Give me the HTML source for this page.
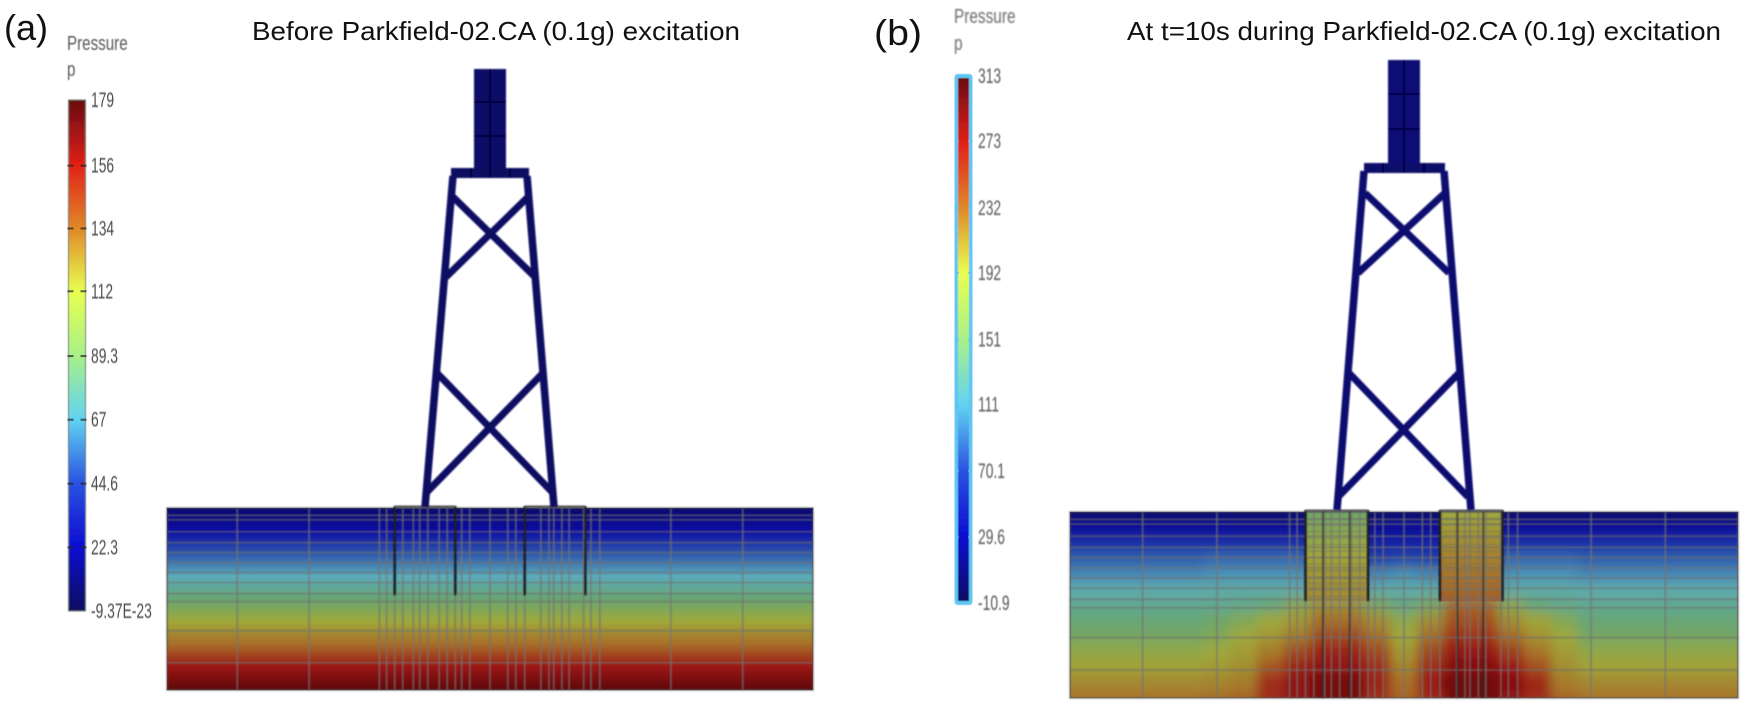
<!DOCTYPE html>
<html lang="en">
<head>
<meta charset="utf-8">
<title>Pressure field before and during Parkfield-02.CA excitation</title>
<style>
html,body{margin:0;padding:0;background:#fff;width:1748px;height:709px;overflow:hidden;}
svg{display:block;overflow:hidden;}
text{font-family:"Liberation Sans",sans-serif;}
</style>
</head>
<body>
<svg id="figure" xmlns="http://www.w3.org/2000/svg" width="1748" height="709" viewBox="0 0 1748 709">
  <defs>
    <filter id="blurTiny" x="-5%" y="-5%" width="110%" height="110%"><feGaussianBlur stdDeviation="0.8"/></filter>
    <filter id="blurText" x="-10%" y="-30%" width="120%" height="160%"><feGaussianBlur stdDeviation="0.5"/></filter>
    <filter id="blurTextB" x="-10%" y="-30%" width="120%" height="160%"><feGaussianBlur stdDeviation="0.75"/></filter>
    <filter id="blurField" filterUnits="userSpaceOnUse" x="900" y="400" width="848" height="309"><feGaussianBlur stdDeviation="5.5"/></filter>
    <clipPath id="clipSoilB"><rect x="1070" y="512" width="668" height="186"/></clipPath>
  </defs>
  <rect x="0" y="0" width="1748" height="709" fill="#fff"/>

  <text x="4" y="40" font-size="36" fill="#111" textLength="44" lengthAdjust="spacingAndGlyphs">(a)</text>
  <text x="252" y="40" font-size="26" fill="#111" textLength="488" lengthAdjust="spacingAndGlyphs">Before Parkfield-02.CA (0.1g) excitation</text>
  <text x="874" y="45" font-size="36" fill="#111" textLength="48" lengthAdjust="spacingAndGlyphs">(b)</text>
  <text x="1127" y="40" font-size="26" fill="#111" textLength="594" lengthAdjust="spacingAndGlyphs">At t=10s during Parkfield-02.CA (0.1g) excitation</text>

  <g filter="url(#blurText)" fill="#5a5a5a">
    <text transform="translate(67,50) scale(.74,1)" font-size="20.5">Pressure</text>
    <text transform="translate(67,76) scale(.74,1)" font-size="20.5">p</text>
  </g>
  <g filter="url(#blurTextB)" fill="#6a6a6a">
    <text transform="translate(954,23) scale(.75,1)" font-size="20.5">Pressure</text>
    <text transform="translate(954,50) scale(.75,1)" font-size="20.5">p</text>
  </g>

  <g id="colorbarA"></g>
  <g id="colorbarB"></g>
  <g id="soilA"></g>
  <g id="soilB"></g>

  <g filter="url(#blurTiny)" fill="none" stroke="#0a0862" stroke-width="7.5">
    <rect x="474" y="69" width="32" height="100" fill="#0b0968" stroke="none"/>
    <rect x="451" y="168" width="78" height="10" fill="#0a0862" stroke="none"/>
    <path d="M490 69V178M474 102H506M474 136H506M471 168V178M490 168V178M510 168V178" stroke="#020230" stroke-width="1.5"/>
    <path d="M453 176L425 507"/>
    <path d="M527 176L554 507"/>
    <path d="M452 196L535 277M529 196L446 277" stroke-width="7"/>
    <path d="M437 373L553 493M543 373L427 492" stroke-width="7"/>
  </g>
  <g filter="url(#blurTiny)" fill="none" stroke="#0a0a70" stroke-width="7.5">
    <rect x="1388" y="60" width="32" height="104" fill="#0b0a74" stroke="none"/>
    <rect x="1364" y="163" width="81" height="10" fill="#0b0a6a" stroke="none"/>
    <path d="M1404 60V173M1388 94H1420M1388 129H1420M1383 163V173M1404 163V173M1424 163V173" stroke="#020238" stroke-width="1.5"/>
    <path d="M1364 171L1337 510"/>
    <path d="M1444 171L1471 510"/>
    <path d="M1365 193L1449 273M1445 193L1358 273" stroke-width="7"/>
    <path d="M1349 373L1468 497M1459 373L1338 497" stroke-width="7"/>
  </g>
</svg>

<script>
// ---- colour scales ----
const barColormap = ['#0a0a60','#0c0cd0','#2a52e0','#62d2f2','#a8f088','#e8ff50','#e08828','#e02018','#680a10'];
const fieldColormap = ['#0a0a6c','#0c0ca4','#2e58ac','#5aaabb','#68a670','#a0a83a','#a86c28','#9a1414','#5c080a'];

// ---- colorbar ticks ----
const tickValuesA = [179,156,134,112,89.3,67,44.6,22.3,0];
const tickLabelsA = ['179','156','134','112','89.3','67','44.6','22.3','-9.37E-23'];
const tickValuesB = [313,273,232,192,151,111,70.1,29.6,-10.9];
const tickLabelsB = ['313','273','232','192','151','111','70.1','29.6','-10.9'];

// ---- panel (a): pressure by depth, evenly spaced from mudline to base ----
const soilProfileA = [0,11.2,22.3,33.5,44.6,55.8,67,78,89.3,100.6,112,123,134,145,156,167.5,179];

// ---- panel (b): pressure field, 13 depth rows x 25 columns ----
const soilFieldB = [
[-11,-11,-11,-11,-11,-11,-11,-11,-11,-11,-11,-11,-11,-11,-11,-11,-11,-11,-11,-11,-11,-11,-11,-11,-11],
[21,21,21,21,21,21,21,21,21,21,21,21,21,21,21,21,21,21,21,21,21,21,21,21,21],
[47,47,47,47,47,47,47,47,47,47,47,40,40,40,47,47,47,47,47,47,47,47,47,47,47],
[73,73,73,73,73,78,78,78,78,60,60,55,60,55,60,60,78,78,78,73,73,73,73,73,73],
[93,93,93,93,93,98,98,98,98,90,90,92,98,92,90,90,98,98,98,93,93,93,93,93,93],
[119,119,119,119,119,122,122,122,122,128,128,122,122,122,133,133,122,122,122,119,119,119,119,119,119],
[132,132,132,132,132,134,138,146,175,209,209,164,141,164,235,235,175,146,138,132,132,132,132,132,132],
[148,148,148,148,148,156,170,190,203,229,229,209,177,209,245,245,209,194,170,148,148,148,148,148,148],
[161,161,161,161,161,170,190,203,222,248,248,229,190,229,258,258,232,206,190,161,161,161,161,161,161],
[180,180,180,180,180,190,200,222,248,267,267,248,203,248,275,275,252,226,200,180,180,180,180,180,180],
[196,196,196,196,196,200,209,242,267,280,280,261,216,261,286,286,270,245,209,196,196,196,196,196,196],
[213,213,213,213,213,216,222,261,280,297,297,267,229,271,302,302,284,264,222,213,213,213,213,213,213],
[226,226,226,226,226,229,235,261,280,297,297,261,235,264,302,302,280,261,235,226,226,226,226,226,226]
];
const pileProfileLeftB = [157,170,183,195,203,208,212];
const pileProfileRightB = [190,200,210,218,225,232,240];

// ---- FE mesh, in model metres ----
const meshColumns = [-31.3,-22.4,-13.7,-12.8,-11.8,-10.8,-9.5,-8.7,-7.7,-6.3,-5.3,-4.3,-3.5,-2.5,0,2.2,3.2,4.3,6.3,7.3,7.9,8.9,9.8,11.6,12.5,13.6,22.4,31.3];
const meshRows = [0.8,1.3,2.6,3.8,4.9,6,7.1,8.2,9.4,10.3,13.5,17];
const pileEdges = [-11.8,-4.3,4.3,11.8];
const pileDepth = 9.6;
const pileCoreLines = [-9.7,-6.5,6.4,9.5];

const NS = 'http://www.w3.org/2000/svg';
const figure = document.getElementById('figure');
const defs = figure.querySelector('defs');

function mk(tag, parent) {
  const el = document.createElementNS(NS, tag);
  parent.appendChild(el);
  return el;
}
function hexToRgb(h) {
  return [parseInt(h.slice(1,3),16),parseInt(h.slice(3,5),16),parseInt(h.slice(5,7),16)];
}
function colorAt(map, f) {
  const t = Math.max(0, Math.min(1, f)) * (map.length - 1);
  const i = Math.min(map.length - 2, Math.floor(t));
  const a = hexToRgb(map[i]), b = hexToRgb(map[i+1]), k = t - i;
  const c = a.map(function (v, j) { return Math.round(v + (b[j] - v) * k); });
  return 'rgb(' + c.join(',') + ')';
}
function gradient(id, colorFn, count) {
  const g = mk('linearGradient', defs);
  g.setAttribute('id', id);
  g.setAttribute('x1', '0'); g.setAttribute('x2', '0');
  g.setAttribute('y1', '0'); g.setAttribute('y2', '1');
  for (let i = 0; i < count; i++) {
    const s = mk('stop', g);
    s.setAttribute('offset', i / (count - 1));
    s.setAttribute('stop-color', colorFn(i));
  }
}

// ---- panel geometry / axis functions ----
const panelA = {cx:490, left:167, right:813, top:508, h:182, pmin:0, pmax:179};
const panelB = {cx:1404, left:1070, right:1738, top:512, h:186, pmin:-10.9, pmax:313};
function xModel(p, u) { return p.cx + u * (p.right - p.left) / 80; }
function yDepth(p, d) { return p.top + d / 20 * p.h; }
function frac(p, v) { return (v - p.pmin) / (p.pmax - p.pmin); }

// ---- colorbars ----
function drawColorbar(root, cfg) {
  const yOf = function (v) { return cfg.bottom - (v - cfg.vmin) / (cfg.vmax - cfg.vmin) * (cfg.bottom - cfg.top); };
  gradient(cfg.gradId, function (i) { return colorAt(barColormap, 1 - i / 32); }, 33);
  const bar = mk('rect', root);
  
  
  bar.setAttribute('x', cfg.x);
  bar.setAttribute('y', yOf(cfg.vmax));
  bar.setAttribute('width', cfg.w);
  bar.setAttribute('height', yOf(cfg.vmin) - yOf(cfg.vmax));
  bar.setAttribute('fill', 'url(#' + cfg.gradId + ')');
  bar.setAttribute('stroke', cfg.stroke);
  bar.setAttribute('stroke-width', cfg.strokeWidth);
  if (cfg.rx) bar.setAttribute('rx', cfg.rx);
  bar.setAttribute('filter', 'url(#blurText)');
  cfg.values.forEach(function (v, i) {
    const y = yOf(v);
    if (i > 0 && i < cfg.values.length - 1) {
      [cfg.x - 1, cfg.x + cfg.w - cfg.tick + 1].forEach(function (tx) {
        const t = mk('rect', root);
        
        
        t.setAttribute('x', tx);
        t.setAttribute('y', y - 1);
        t.setAttribute('width', cfg.tick);
        t.setAttribute('height', 2);
        t.setAttribute('fill', cfg.tickColor);
        t.setAttribute('opacity', '.7');
      });
    }
    const label = mk('text', root);
    
    
    label.setAttribute('transform', 'translate(' + cfg.labelX + ',' + (y + 7) + ') scale(.66,1)');
    label.setAttribute('font-size', '21');
    label.setAttribute('fill', cfg.labelColor);
    label.setAttribute('filter', cfg.labelFilter);
    label.textContent = cfg.labels[i];
  });
}
drawColorbar(document.getElementById('colorbarA'), {
  gradId:'rampA', x:68.5, w:17, top:100, bottom:611, vmin:0, vmax:179,
  values:tickValuesA, labels:tickLabelsA, stroke:'#6a7a70', strokeWidth:1,
  tick:6, tickColor:'#222', labelX:91, labelColor:'#4c4c4c', labelFilter:'url(#blurText)'
});
drawColorbar(document.getElementById('colorbarB'), {
  gradId:'rampB', x:956, w:15, top:76, bottom:603, vmin:-10.9, vmax:313,
  values:tickValuesB, labels:tickLabelsB, stroke:'#62c6f2', strokeWidth:4, rx:2,
  tick:4, tickColor:'#5cc0f0', labelX:978, labelColor:'#585858', labelFilter:'url(#blurTextB)'
});

// ---- mesh ----
function drawMesh(root, p) {
  const bottom = p.top + p.h;
  meshRows.forEach(function (d) {
    const l = mk('line', root);
    
    
    l.setAttribute('x1', p.left); l.setAttribute('x2', p.right);
    l.setAttribute('y1', yDepth(p, d)); l.setAttribute('y2', yDepth(p, d));
    l.setAttribute('stroke', '#6e6e6e');
    l.setAttribute('stroke-width', '1.6');
    l.setAttribute('stroke-opacity', '.65');
  });
  meshColumns.forEach(function (u) {
    const l = mk('line', root);
    
    
    l.setAttribute('x1', xModel(p, u)); l.setAttribute('x2', xModel(p, u));
    l.setAttribute('y1', p.top); l.setAttribute('y2', bottom);
    l.setAttribute('stroke', '#747474');
    l.setAttribute('stroke-width', '1.6');
    l.setAttribute('stroke-opacity', '.75');
  });
  const outline = mk('rect', root);
  
  
  outline.setAttribute('x', p.left); outline.setAttribute('y', p.top);
  outline.setAttribute('width', p.right - p.left); outline.setAttribute('height', p.h);
  outline.setAttribute('fill', 'none');
  outline.setAttribute('stroke', '#555');
  outline.setAttribute('stroke-width', '1.2');
  pileEdges.forEach(function (u) {
    const l = mk('line', root);
    
    
    l.setAttribute('x1', xModel(p, u)); l.setAttribute('x2', xModel(p, u));
    l.setAttribute('y1', p.top - 2); l.setAttribute('y2', yDepth(p, pileDepth));
    l.setAttribute('stroke', '#1c1c22');
    l.setAttribute('stroke-width', '2.6');
  });
  [[0,1],[2,3]].forEach(function (pair) {
    const cap = mk('line', root);
    
    
    cap.setAttribute('x1', xModel(p, pileEdges[pair[0]]));
    cap.setAttribute('x2', xModel(p, pileEdges[pair[1]]));
    cap.setAttribute('y1', p.top - 1.5); cap.setAttribute('y2', p.top - 1.5);
    cap.setAttribute('stroke', '#555');
    cap.setAttribute('stroke-width', '2');
  });
}

// ---- panel (a) soil ----
const soilARoot = document.getElementById('soilA');
gradient('soilGradA', function (i) { return colorAt(fieldColormap, frac(panelA, soilProfileA[i])); }, soilProfileA.length);
const soilRectA = mk('rect', soilARoot);


soilRectA.setAttribute('x', panelA.left);
soilRectA.setAttribute('y', panelA.top);
soilRectA.setAttribute('width', panelA.right - panelA.left);
soilRectA.setAttribute('height', panelA.h);
soilRectA.setAttribute('fill', 'url(#soilGradA)');
const meshA = mk('g', soilARoot);


meshA.setAttribute('filter', 'url(#blurTiny)');
drawMesh(meshA, panelA);

// ---- panel (b) soil ----
const soilBRoot = document.getElementById('soilB');
const clipB = mk('g', soilBRoot);


clipB.setAttribute('clip-path', 'url(#clipSoilB)');
const cellsB = mk('g', clipB);


cellsB.setAttribute('filter', 'url(#blurField)');
const rowCount = soilFieldB.length, colCount = soilFieldB[0].length;
const cellW = (panelB.right - panelB.left) / colCount;
const cellH = panelB.h / (rowCount - 1);
soilFieldB.forEach(function (row, r) {
  row.forEach(function (v, c) {
    const cell = mk('rect', cellsB);
    
    
    const x0 = panelB.left + c * cellW - (c === 0 ? 40 : 0);
    const x1 = Math.min(1748, panelB.left + (c + 1) * cellW + (c === colCount - 1 ? 10 : 0.5));
    const y0 = panelB.top + (r - 0.5) * cellH - (r === 0 ? 40 : 0);
    const y1 = Math.min(709, panelB.top + (r + 0.5) * cellH + (r === rowCount - 1 ? 3 : 0.5));
    cell.setAttribute('x', x0);
    cell.setAttribute('y', y0);
    cell.setAttribute('width', x1 - x0);
    cell.setAttribute('height', y1 - y0);
    cell.setAttribute('fill', colorAt(fieldColormap, frac(panelB, v)));
  });
});

function drawPile(root, profile, id, edgeA, edgeB) {
  gradient(id, function (i) { return colorAt(fieldColormap, frac(panelB, profile[i])); }, profile.length);
  const pile = mk('rect', root);
  
  
  pile.setAttribute('x', xModel(panelB, edgeA));
  pile.setAttribute('y', panelB.top);
  pile.setAttribute('width', xModel(panelB, edgeB) - xModel(panelB, edgeA));
  pile.setAttribute('height', yDepth(panelB, pileDepth) - panelB.top);
  pile.setAttribute('fill', 'url(#' + id + ')');
}
drawPile(soilBRoot, pileProfileLeftB, 'pileGradL', pileEdges[0], pileEdges[1]);
drawPile(soilBRoot, pileProfileRightB, 'pileGradR', pileEdges[2], pileEdges[3]);

const meshB = mk('g', soilBRoot);


meshB.setAttribute('filter', 'url(#blurTiny)');
// fine pile mesh rows
[[0,1],[2,3]].forEach(function (pair) {
  for (let d = 0.7; d < pileDepth; d += 0.7) {
    const l = mk('line', meshB);
    
    
    l.setAttribute('x1', xModel(panelB, pileEdges[pair[0]]));
    l.setAttribute('x2', xModel(panelB, pileEdges[pair[1]]));
    l.setAttribute('y1', yDepth(panelB, d));
    l.setAttribute('y2', yDepth(panelB, d));
    l.setAttribute('stroke', '#707060');
    l.setAttribute('stroke-width', '1.2');
    l.setAttribute('stroke-opacity', '.55');
  }
});
drawMesh(meshB, panelB);
pileCoreLines.forEach(function (u) {
  const l = mk('line', meshB);
  
  
  l.setAttribute('x1', xModel(panelB, u)); l.setAttribute('x2', xModel(panelB, u));
  l.setAttribute('y1', panelB.top); l.setAttribute('y2', panelB.top + panelB.h);
  l.setAttribute('stroke', '#2a2a22');
  l.setAttribute('stroke-width', '1.8');
  l.setAttribute('stroke-opacity', '.75');
});
</script>
</body>
</html>
